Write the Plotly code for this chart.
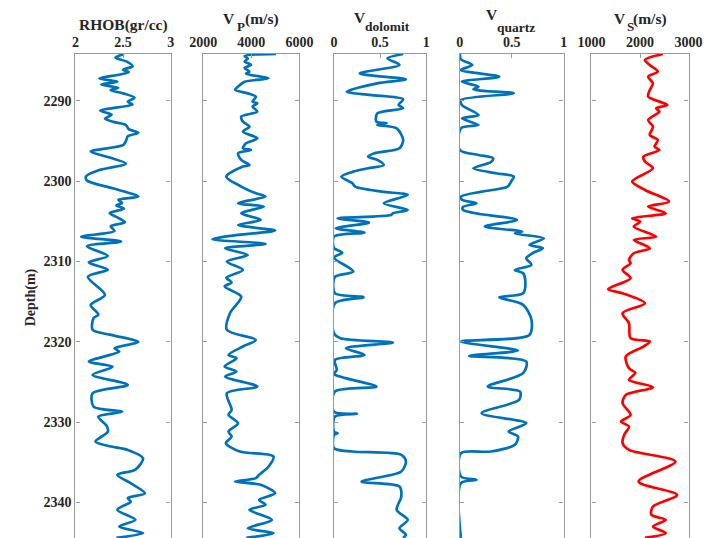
import plotly.graph_objects as go

# ---- log curves: depth (m) and value pairs ----
rhob_depth = [2284.15, 2284.6, 2285.1, 2285.7, 2286.1, 2286.4, 2286.7, 2287.2, 2287.6, 2287.95,
              2288.35, 2288.65, 2289.05, 2289.6, 2290.1, 2290.45, 2291.2, 2291.7, 2292.2, 2292.6,
              2293.0, 2293.5, 2293.95, 2294.4, 2295.0, 2295.5, 2296.3, 2297.0, 2297.8, 2298.6,
              2299.4, 2299.9, 2300.9, 2301.9, 2302.3, 2302.7, 2303.0, 2303.4, 2303.95, 2304.5,
              2305.1, 2305.6, 2306.2, 2306.9, 2307.5, 2308.1, 2309.3, 2310.1, 2311.0, 2311.9,
              2314.15, 2315.4, 2316.6, 2317.05, 2318.5, 2319.1, 2320.0, 2320.8, 2321.2, 2322.45,
              2323.1, 2324.1, 2325.35, 2326.4, 2328.05, 2328.7, 2329.3, 2330.5, 2331.2, 2332.4,
              2333.0, 2333.45, 2334.5, 2335.9, 2336.55, 2337.6, 2338.85, 2339.45, 2339.9, 2340.9,
              2342.15, 2343.0, 2343.8, 2344.4]
rhob = [2.51, 2.42, 2.54, 2.60, 2.50, 2.56, 2.47, 2.25, 2.44, 2.27,
        2.45, 2.37, 2.50, 2.62, 2.55, 2.60, 2.26, 2.38, 2.31, 2.40,
        2.53, 2.56, 2.66, 2.55, 2.53, 2.50, 2.16, 2.35, 2.53, 2.25,
        2.11, 2.12, 2.40, 2.66, 2.45, 2.49, 2.43, 2.51, 2.36, 2.44,
        2.52, 2.37, 2.41, 2.06, 2.48, 2.12, 2.34, 2.14, 2.34, 2.13,
        2.31, 2.16, 2.24, 2.19, 2.18, 2.36, 2.66, 2.41, 2.46, 2.14,
        2.39, 2.18, 2.55, 2.18, 2.19, 2.49, 2.24, 2.33, 2.34, 2.21,
        2.36, 2.55, 2.71, 2.63, 2.44, 2.58, 2.73, 2.55, 2.58, 2.44,
        2.63, 2.46, 2.71, 2.43]

vp_depth = [2284.15, 2284.4, 2284.7, 2285.1, 2285.5, 2285.9, 2286.35, 2286.6, 2287.18, 2287.6,
            2288.2, 2288.6, 2289.05, 2289.46, 2290.08, 2290.3, 2290.7, 2291.33, 2291.95, 2292.57,
            2293.2, 2293.82, 2294.65, 2295.27, 2295.89, 2296.1, 2296.51, 2297.34, 2297.97, 2298.17,
            2299.42, 2300.66, 2301.49, 2301.9, 2302.74, 2303.15, 2303.98, 2304.81, 2305.44, 2306.14,
            2306.68, 2307.22, 2307.8, 2308.34, 2309.17, 2310.0, 2311.04, 2312.0, 2312.6, 2313.1,
            2314.36, 2316.43, 2318.51, 2319.75, 2320.58, 2321.62, 2322.03, 2323.07, 2323.69, 2324.32,
            2325.56, 2326.39, 2328.46, 2329.09, 2330.12, 2331.16, 2331.78, 2332.61, 2333.65, 2334.27,
            2335.52, 2336.56, 2336.97, 2337.39, 2337.8, 2338.84, 2339.67, 2340.29, 2340.91, 2342.16,
            2343.2, 2343.82, 2344.4]
vp = [5030, 3720, 3850, 3720, 3990, 3720, 3920, 3780, 4720, 3720,
      3450, 3320, 3850, 4190, 4050, 4250, 4050, 4250, 3580, 3650,
      3920, 3650, 4250, 3780, 3650, 3990, 3450, 3580, 3920, 3650,
      2960, 3580, 4190, 4590, 3450, 4520, 3580, 4390, 3450, 4990,
      3450, 2380, 4590, 2910, 3850, 2980, 3650, 2960, 3180, 2890,
      3580, 3110, 2980, 4190, 3650, 3050, 3380, 2890, 3380, 2910,
      4250, 2980, 3180, 3050, 3450, 3050, 3180, 2940, 3520, 4920,
      4720, 4320, 4190, 3320, 4390, 4990, 4320, 4590, 3920, 4860,
      3850, 4920, 3790]

vdol_depth = [2284.15, 2284.7, 2285.5, 2286.56, 2287.3, 2287.8, 2288.84, 2289.25, 2289.79, 2290.5,
              2290.91, 2291.54, 2292.57, 2292.78, 2293.0, 2293.4, 2294.85, 2295.89, 2296.51, 2296.93,
              2297.34, 2297.97, 2298.38, 2298.8, 2299.42, 2300.25, 2300.66, 2301.29, 2301.7, 2302.74,
              2303.57, 2303.98, 2304.2, 2304.61, 2305.15, 2305.85, 2306.39, 2306.89, 2308.3, 2308.9,
              2309.5, 2311.24, 2311.9, 2313.94, 2314.44, 2315.19, 2318.92, 2319.54, 2320.08, 2320.79,
              2321.62, 2322.24, 2323.49, 2324.0, 2325.56, 2326.18, 2328.7, 2328.96, 2329.29, 2331.2,
              2331.37, 2331.6, 2333.24, 2333.65, 2334.07, 2334.9, 2336.14, 2337.39, 2338.01, 2339.25,
              2340.91, 2342.16, 2343.2, 2344.02, 2344.4]
vdol = [0.75, 0.58, 0.71, 0.28, 0.78, 0.47, 0.14, 0.39, 0.75, 0.70,
        0.75, 0.47, 0.46, 0.57, 0.47, 0.68, 0.75, 0.71, 0.44, 0.37,
        0.47, 0.54, 0.37, 0.21, 0.08, 0.20, 0.23, 0.52, 0.80, 0.54,
        0.80, 0.64, 0.62, 0.04, 0.38, 0.02, 0.33, 0.0, 0.0, 0.09,
        0.0, 0.21, 0.01, 0.01, 0.32, 0.01, 0.0, 0.07, 0.64, 0.13,
        0.33, 0.01, 0.03, 0.0, 0.46, 0.01, 0.0, 0.25, 0.01, 0.0,
        0.04, 0.0, 0.0, 0.20, 0.73, 0.78, 0.73, 0.30, 0.71, 0.73,
        0.68, 0.80, 0.71, 0.78, 0.75]

vqtz_depth = [2284.15, 2284.81, 2285.52, 2286.14, 2286.97, 2287.59, 2288.22, 2288.55, 2289.05, 2289.88,
              2290.5, 2291.74, 2292.16, 2292.99, 2293.4, 2296.1, 2296.72, 2297.14, 2297.6, 2298.38,
              2299.0, 2299.42, 2299.9, 2300.66, 2301.29, 2301.91, 2302.3, 2302.74, 2303.2, 2303.57,
              2303.98, 2304.81, 2305.64, 2306.27, 2306.5, 2307.1, 2307.93, 2308.34, 2308.96, 2309.59,
              2310.41, 2311.04, 2311.45, 2312.28, 2313.94, 2314.44, 2315.39, 2317.26, 2319.13, 2319.95,
              2321.08, 2321.74, 2322.45, 2323.9, 2325.56, 2326.18, 2327.22, 2328.88, 2330.12, 2331.16,
              2331.78, 2332.82, 2333.65, 2333.86, 2336.76, 2337.18, 2337.59, 2344.4]
vqtz = [0.0, 0.01, 0.12, 0.01, 0.38, 0.02, 0.18, 0.13, 0.52, 0.01,
        0.02, 0.18, 0.02, 0.18, 0.01, 0.0, 0.18, 0.32, 0.30, 0.13,
        0.35, 0.52, 0.50, 0.46, 0.21, 0.01, 0.02, 0.16, 0.03, 0.03,
        0.15, 0.55, 0.24, 0.60, 0.53, 0.81, 0.67, 0.80, 0.70, 0.64,
        0.69, 0.53, 0.61, 0.63, 0.61, 0.38, 0.61, 0.69, 0.67, 0.01,
        0.56, 0.09, 0.64, 0.61, 0.27, 0.58, 0.57, 0.21, 0.64, 0.47,
        0.56, 0.53, 0.30, 0.01, 0.01, 0.16, 0.01, 0.01]

vs_depth = [2284.15, 2284.9, 2285.52, 2286.35, 2286.97, 2287.8, 2288.63, 2289.46, 2290.5, 2290.91,
            2291.33, 2292.37, 2293.2, 2294.23, 2294.85, 2295.68, 2296.1, 2296.93, 2297.55, 2298.38,
            2300.04, 2301.08, 2302.53, 2303.15, 2303.98, 2304.61, 2305.02, 2305.64, 2306.89, 2307.3,
            2308.34, 2308.96, 2309.79, 2310.21, 2311.04, 2312.07, 2313.44, 2313.94, 2315.19, 2316.43,
            2317.68, 2319.54, 2319.95, 2320.58, 2321.83, 2323.28, 2323.86, 2324.73, 2325.64, 2326.6,
            2327.63, 2329.09, 2329.92, 2330.54, 2331.58, 2332.61, 2333.44, 2334.9, 2337.39, 2339.05,
            2340.5, 2341.53, 2342.16, 2342.99, 2343.82, 2344.4]
vs = [2470, 2100, 2200, 2366, 2168, 2267, 2201, 2168, 2564, 2333,
      2399, 2168, 2267, 2201, 2366, 2300, 2399, 2069, 2102, 2267,
      1838, 2102, 2597, 2168, 2531, 1838, 2003, 1871, 2333, 1871,
      2201, 1871, 1772, 1805, 1640, 1805, 1343, 1640, 2102, 1640,
      1772, 1805, 2201, 2069, 1706, 1772, 1904, 1772, 2267, 1706,
      1640, 1805, 1607, 1772, 1673, 1640, 1772, 2729, 1970, 2762,
      2267, 2234, 2531, 2267, 2531, 2100]

# ---- axis definitions ----
x_ranges = [[2, 3], [2000, 6000], [0, 1], [0, 1], [1000, 3000]]
x_ticks = [[2, 2.5, 3], [2000, 4000, 6000], [0, 0.5, 1], [0, 0.5, 1], [1000, 2000, 3000]]
x_ticktext = [["2", "2.5", "3"], ["2000", "4000", "6000"], ["0", "0.5", "1"],
              ["0", "0.5", "1"], ["1000", "2000", "3000"]]
depth_ticks = [2290, 2300, 2310, 2320, 2330, 2340]
depth_range = [2344.42, 2284.15]

# track titles, split into (text, size, x px, y px) pieces so the
# subscripts can sit lower than the html <sub> default
title_parts = [
    [("RHOB(gr/cc)", 15.5, 114, 25)],
    [("V", 15.5, 223.5, 19), ("P", 13, 236, 26.5), ("(m/s)", 15.5, 258, 19.5)],
    [("V", 15.5, 360, 17.5), ("dolomit", 13.5, 388.5, 27)],
    [("V", 15.5, 497, 14.5), ("quartz", 13.5, 522.5, 27.5)],
    [("V", 15.5, 631, 18.5), ("S", 13, 642, 26.5), ("(m/s)", 15.5, 662, 19)],
]

W, H, TOP = 716, 538, 54
panel_px = [(64, 163), (197, 297), (333, 429), (464, 572), (601, 702)]

BLUE = "#0072BD"
RED = "#FF0000"
FRAME = "#9a9a9a"
TXT = "#262626"
SERIF = "Liberation Serif"

series = [(rhob, rhob_depth, BLUE), (vp, vp_depth, BLUE), (vdol, vdol_depth, BLUE),
          (vqtz, vqtz_depth, BLUE), (vs, vs_depth, RED)]

fig = go.Figure()
layout = {}
for i, ((xv, dv, col), (x0, x1)) in enumerate(zip(series, panel_px)):
    n = "" if i == 0 else str(i + 1)
    fig.add_trace(go.Scatter(
        x=xv, y=dv, mode="lines",
        line=dict(color=col, width=2.7, shape="spline", smoothing=0.8),
        xaxis="x" + n, yaxis="y" + n, showlegend=False, hoverinfo="skip"))
    layout["xaxis" + n] = dict(
        domain=[x0 / W, x1 / W], range=x_ranges[i], side="top", anchor="y" + n,
        tickmode="array", tickvals=x_ticks[i], ticktext=x_ticktext[i],
        ticks="inside", ticklen=4, tickcolor=FRAME, tickwidth=1,
        showline=True, linecolor=FRAME, linewidth=1.3, mirror=False,
        showgrid=False, zeroline=False,
        tickfont=dict(family=SERIF, size=14, color=TXT, weight="bold"))
    layout["yaxis" + n] = dict(
        domain=[0, 1], range=depth_range, anchor="x" + n,
        tickmode="array", tickvals=depth_ticks, showticklabels=(i == 0),
        ticks="inside", ticklen=4, tickcolor=FRAME, tickwidth=1,
        showline=True, linecolor=FRAME, linewidth=1.3, mirror="ticks",
        showgrid=False, zeroline=False,
        tickfont=dict(family=SERIF, size=14, color=TXT, weight="bold"))

annotations = []
for parts in title_parts:
    for text, size, px, py in parts:
        annotations.append(dict(
            text=text, xref="paper", yref="paper", x=px / W, y=(H - py) / (H - TOP),
            xanchor="center", yanchor="middle", showarrow=False,
            font=dict(family=SERIF, size=size, color=TXT, weight="bold")))
annotations.append(dict(
    text="Depth(m)", xref="paper", yref="paper", x=18 / W, y=(H - 297) / (H - TOP),
    xanchor="center", yanchor="middle", textangle=-90, showarrow=False,
    font=dict(family=SERIF, size=14, color=TXT, weight="bold")))

fig.update_layout(
    width=W, height=H, margin=dict(l=0, r=0, t=TOP, b=0, pad=0),
    paper_bgcolor="white", plot_bgcolor="white",
    annotations=annotations, **layout)

fig.write_html("out.html")
